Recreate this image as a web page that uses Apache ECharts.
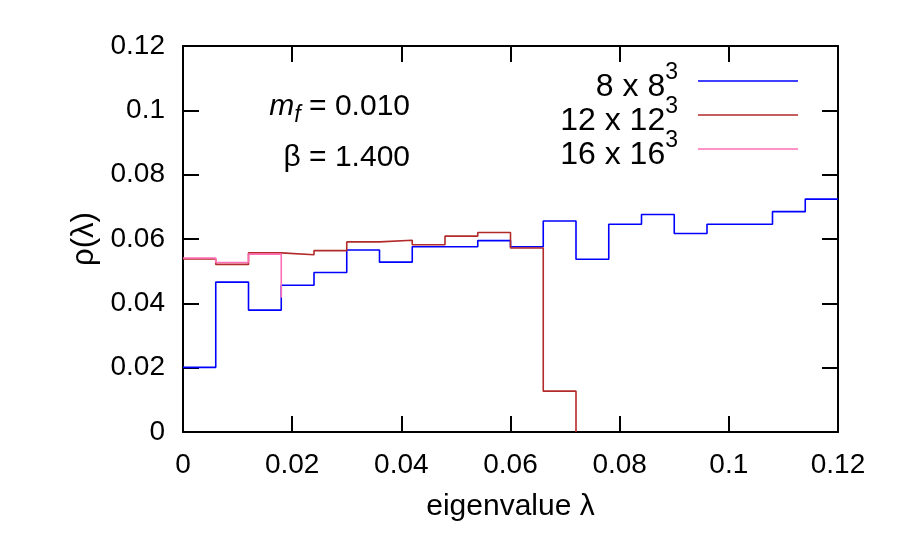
<!DOCTYPE html>
<html><head><meta charset="utf-8">
<script src="https://cdn.jsdelivr.net/npm/echarts@6/dist/echarts.min.js"></script>
<style>html,body{margin:0;padding:0;background:#fff}#c{width:897px;height:551px}</style>
</head><body><div id="c"></div>
<script>
// bin starts (eigenvalue λ), bin width 0.006
const binStarts = [0,0.006,0.012,0.018,0.024,0.030,0.036,0.042,0.048,0.054,0.060,0.066,0.072,0.078,0.084,0.090,0.096,0.102,0.108,0.114];
const binWidth = 0.006;
// 8 x 8^3
const rho8 = [0.0201,0.0466,0.0379,0.0456,0.0496,0.0566,0.0528,0.0576,0.0576,0.0595,0.0576,0.0656,0.0537,0.0646,0.0676,0.0617,0.0646,0.0646,0.0685,0.0724];
// 12 x 12^3
const rho12 = [0.0538,0.0521,0.0557,0.0551,0.0564,0.0591,0.0596,0.0582,0.0609,0.0620,0.0572,0.0127];
const rho12Tail = 0;
// 16 x 16^3
const rho16 = [0.0541,0.0527,0.0553];
const rho16Tail = 0.0417;
const seriesNames = ['8 x 8', '12 x 12', '16 x 16'];
const seriesColors = ['#0000ff', '#b22a2a', '#ff6eb4'];
const tickValues = [0,0.02,0.04,0.06,0.08,0.1,0.12];

function steps(vals, tail) {
  const pts = [];
  vals.forEach((v, i) => {
    const x0 = binStarts[i];
    const x1 = +(x0 + binWidth).toFixed(6);
    pts.push([x0, v]);
    pts.push([x1, v]);
  });
  if (tail !== undefined) {
    const xe = +(binStarts[vals.length - 1] + binWidth).toFixed(6);
    pts.push([xe, tail]);
  }
  return pts;
}

const FONT = '"Liberation Sans", Arial, Helvetica, sans-serif';
const axisBase = (pos, showLabel) => ({
  type: 'value', min: tickValues[0], max: tickValues[tickValues.length-1], interval: 0.02,
  position: pos,
  axisLine: { show: true, onZero: false, lineStyle: { color: '#000', width: 2 } },
  axisTick: { show: true, inside: true, length: 16, lineStyle: { color: '#000', width: 2 } },
  axisLabel: { show: showLabel, fontSize: 28, color: '#000', fontFamily: FONT, margin: 18,
               formatter: v => String(+v.toFixed(4)) },
  splitLine: { show: false }
});

const chart = echarts.init(document.getElementById('c'), null, { renderer: 'canvas' });
const xb = axisBase('bottom', true);
xb.axisLabel.margin = 19;
xb.name = 'eigenvalue λ';
xb.nameLocation = 'middle';
xb.nameGap = 60;
xb.nameTextStyle = { fontSize: 30, color: '#000', fontFamily: FONT };
const yl = axisBase('left', true);
yl.name = 'ρ(λ)';
yl.nameLocation = 'middle';
yl.nameGap = 82;
yl.nameRotate = 90;
yl.nameTextStyle = { fontSize: 31, color: '#000', fontFamily: FONT };

const legendY = [81, 115, 149];
const legendGraphics = [];
seriesNames.forEach((n, i) => {
  legendGraphics.push({
    type: 'text', x: 678, y: legendY[i] + 1,
    style: {
      text: '{b|' + n + '}{s|3}',
      align: 'right', verticalAlign: 'middle',
      rich: {
        b: { fontSize: 32, fontFamily: FONT, fill: '#000', lineHeight: 42, verticalAlign: 'bottom' },
        s: { fontSize: 23, fontFamily: FONT, fill: '#000', lineHeight: 42, verticalAlign: 'top' }
      }
    }
  });
  legendGraphics.push({
    type: 'line', shape: { x1: 698, y1: legendY[i], x2: 798, y2: legendY[i] },
    style: { stroke: seriesColors[i], lineWidth: 1.5 }
  });
});

chart.setOption({
  animation: false,
  backgroundColor: '#fff',
  grid: { left: 183, right: 59, top: 46, bottom: 119, containLabel: false },
  xAxis: [xb, axisBase('top', false)],
  yAxis: [yl, axisBase('right', false)],
  graphic: legendGraphics.concat([
    { type: 'text', x: 410, y: 107,
      style: { text: '{m|m}{f|f}{t| = 0.010}', align: 'right', verticalAlign: 'middle',
        rich: {
          m: { fontSize: 30, fontStyle: 'italic', fontFamily: FONT, fill: '#000', lineHeight: 40, verticalAlign: 'middle' },
          f: { fontSize: 23, fontStyle: 'italic', fontFamily: FONT, fill: '#000', lineHeight: 40, verticalAlign: 'bottom' },
          t: { fontSize: 30, fontFamily: FONT, fill: '#000', lineHeight: 40, verticalAlign: 'middle' }
        } } },
    { type: 'text', x: 410, y: 158,
      style: { text: 'β = 1.400', align: 'right', verticalAlign: 'middle',
        fontSize: 30, fontFamily: FONT, fill: '#000' } }
  ]),
  series: [
    { name: seriesNames[0], type: 'line', data: steps(rho8), symbol: 'none', lineStyle: { color: seriesColors[0], width: 1.6 }, z: 2 },
    { name: seriesNames[1], type: 'line', data: steps(rho12, rho12Tail), symbol: 'none', lineStyle: { color: seriesColors[1], width: 1.6 }, z: 3 },
    { name: seriesNames[2], type: 'line', data: steps(rho16, rho16Tail), symbol: 'none', lineStyle: { color: seriesColors[2], width: 1.6 }, z: 4 }
  ]
});
</script>
</body></html>
